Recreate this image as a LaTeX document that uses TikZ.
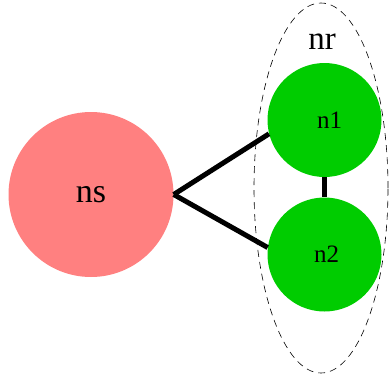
\documentclass[tikz,border=0pt]{standalone}
\usepackage{fontspec}
\setmainfont{Liberation Serif}
\usetikzlibrary{shapes.geometric}
\definecolor{pinkfill}{HTML}{FF8080}
\definecolor{greenfill}{HTML}{00CC00}
\begin{document}
\begin{tikzpicture}[x=1pt,y=-1pt,
  bignode/.style={circle,fill=pinkfill,minimum size=165pt,inner sep=0pt,font=\fontsize{34}{38}\selectfont},
  gnode/.style={circle,fill=greenfill,minimum size=114pt,inner sep=0pt,font=\fontsize{25}{29}\selectfont},
  edge/.style={line width=5pt}]
\useasboundingbox (0,0) rectangle (389,378);
\node[ellipse,draw,dash pattern=on 7pt off 5pt,line width=0.6pt,minimum width=134pt,minimum height=370pt,inner sep=0pt] (nr) at (321,188) {};
\node[font=\fontsize{33}{37}\selectfont] (nrlabel) at (322,42) {nr};
\node[bignode] (ns) at (91,194.5) {ns};
\node[gnode] (n1) at (324.5,120) {\hspace*{10pt}n1};
\node[gnode] (n2) at (324.5,254.5) {\hspace*{4pt}n2};
\draw[edge] (ns.east) -- (n1.194);
\draw[edge] (ns.east) -- (n2.173);
\draw[edge] (n1) -- (n2);
\end{tikzpicture}
\end{document}
